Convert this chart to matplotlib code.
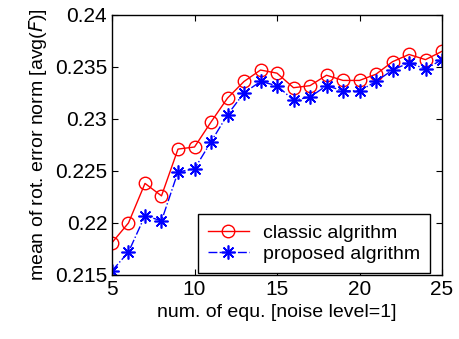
import numpy as np
import matplotlib
matplotlib.use("Agg")
import matplotlib.pyplot as plt

plt.rcParams['font.family'] = ['Liberation Sans', 'DejaVu Sans']

# number of equations used
num_equ = list(range(5, 26))

# mean rotation error norm, classic vs proposed
classic = [0.2181, 0.2200, 0.2238, 0.2226, 0.2271, 0.2273, 0.2297, 0.2320,
           0.2336, 0.2347, 0.2344, 0.2330, 0.2332, 0.2342, 0.2337, 0.2337,
           0.2343, 0.2355, 0.2362, 0.2357, 0.2365]
proposed = [0.2154, 0.2172, 0.2207, 0.2202, 0.2249, 0.2252, 0.2278, 0.2304,
            0.2325, 0.2336, 0.2332, 0.2318, 0.2321, 0.2332, 0.2327, 0.2327,
            0.2336, 0.2347, 0.2354, 0.2348, 0.2357]

xticks = [5, 10, 15, 20, 25]
yticks = [0.215, 0.22, 0.225, 0.23, 0.235, 0.24]
ytick_labels = ['0.215', '0.22', '0.225', '0.23', '0.235', '0.24']

fig = plt.figure(figsize=(4.59, 3.39), dpi=100)
ax = fig.add_axes([0.244, 0.189, 0.719, 0.767])

# matlab-style asterisk: 8 arms
asterisk = (8, 2, 0)

ax.plot(num_equ, classic, 'r-o', markerfacecolor='none', markersize=9,
        linewidth=1.0, label='classic algrithm')
ax.plot(num_equ, proposed, color='b', linestyle='-.', marker=asterisk,
        markersize=10, markeredgewidth=1.2, linewidth=1.0,
        label='proposed algrithm')

ax.set_xlim(5, 25)
ax.set_ylim(0.215, 0.24)
ax.set_xticks(xticks)
ax.set_yticks(yticks)
ax.set_yticklabels(ytick_labels)
ax.tick_params(direction='in', top=True, right=True, labelsize=15, length=4)
for s in ax.spines.values():
    s.set_linewidth(1.0)

ax.set_xlabel('num. of equ. [noise level=1]', fontsize=14)
ax.set_ylabel('mean of rot. error norm [avg($F$)]', fontsize=14)

leg = ax.legend(loc='lower right', bbox_to_anchor=(0.964, 0.008),
                fontsize=14, fancybox=False, edgecolor='black',
                framealpha=1, handlelength=2.1, handletextpad=0.75,
                borderaxespad=0, borderpad=0.5, labelspacing=0.2)
leg.get_frame().set_linewidth(1.0)

fig.savefig('out.png', dpi=100)
